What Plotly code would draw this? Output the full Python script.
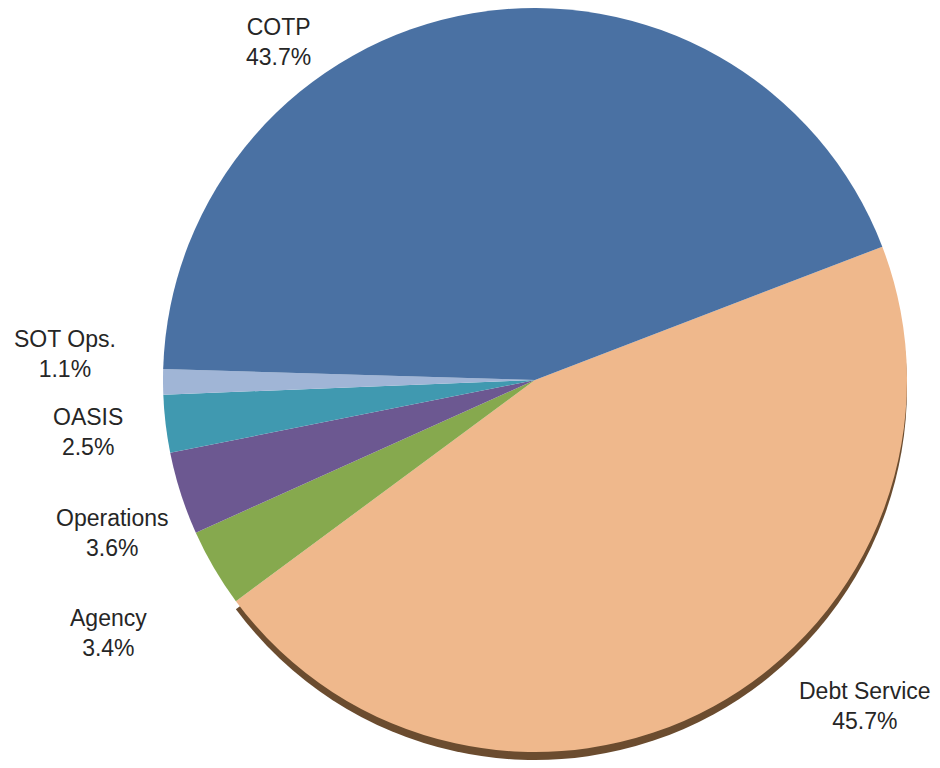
import plotly.graph_objects as go

categorias = ['Debt Service', 'Agency', 'Operations', 'OASIS', 'SOT Ops.', 'COTP']
percentuais = [45.7, 3.4, 3.6, 2.5, 1.1, 43.7]
cores = ['#efb88c', '#86a94e', '#6c5891', '#4099b0', '#a0b5d6', '#4a71a3']

# posicao dos rotulos na tela (px), centro do bloco de texto
pos_rotulos = {
    'Debt Service': (865, 706),
    'Agency': (108, 633),
    'Operations': (112, 533),
    'OASIS': (88, 432),
    'SOT Ops.': (65, 354),
    'COTP': (278, 42),
}

OFF = 8  # margem do body da pagina
W, H = 932, 760
raio = 372
cx = 535 - OFF
desloc = 8  # sombra

dom_x = [(cx - raio) / W, (cx + raio) / W]

fig = go.Figure()

# sombra (borda marrom embaixo do Debt Service)
cores_sombra = ['#6b4c2f'] + ['rgba(0,0,0,0)'] * (len(categorias) - 1)
fig.add_trace(go.Pie(labels=categorias, values=percentuais, sort=False,
                     direction='clockwise', rotation=69,
                     marker=dict(colors=cores_sombra, line=dict(width=0)),
                     textinfo='none', hoverinfo='skip',
                     domain=dict(x=dom_x, y=[1 - (2 * raio + desloc) / H, 1 - desloc / H])))

fig.add_trace(go.Pie(labels=categorias, values=percentuais, sort=False,
                     direction='clockwise', rotation=69,
                     marker=dict(colors=cores, line=dict(width=0)),
                     textinfo='none',
                     domain=dict(x=dom_x, y=[1 - 2 * raio / H, 1])))

for cat, val in zip(categorias, percentuais):
    x, y = pos_rotulos[cat]
    fig.add_annotation(x=(x - OFF) / W, y=1 - (y - OFF) / H, xref='paper', yref='paper',
                       xanchor='center', yanchor='middle',
                       text=f'{cat}<br>{val:.1f}%', showarrow=False,
                       font=dict(family='Liberation Sans, Arial', size=23, color='#262626'),
                       align='center')

fig.update_layout(width=W, height=H, showlegend=False,
                  margin=dict(l=0, r=0, t=0, b=0),
                  paper_bgcolor='white', plot_bgcolor='white')

fig.write_html('out.html')
